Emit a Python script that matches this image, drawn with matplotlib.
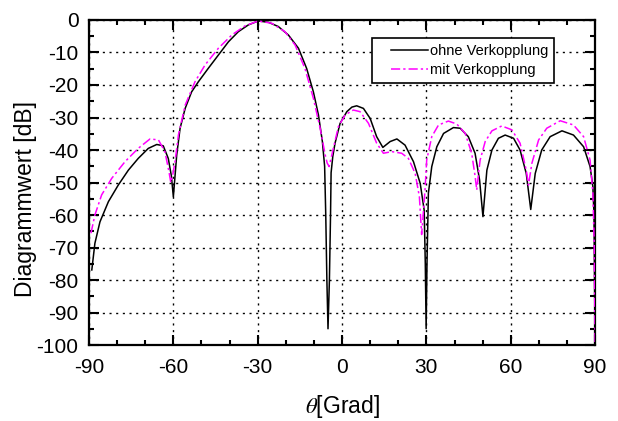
import matplotlib
matplotlib.use("Agg")
import matplotlib.pyplot as plt
from matplotlib.ticker import MultipleLocator
from matplotlib.legend_handler import HandlerLine2D

plt.rcParams['font.family'] = ['Liberation Sans', 'DejaVu Sans']
plt.rcParams['mathtext.fontset'] = 'stix'
plt.rcParams['axes.unicode_minus'] = False

# ohne Verkopplung (schwarz)
theta_ohne = [-89.0, -87.9, -86.1, -83.1, -79.6, -76.0, -72.5, -68.9, -65.9, -63.6,
              -61.8, -60.7, -60.0, -59.4, -58.8, -57.6, -55.8, -53.5, -51.1, -47.6,
              -44.0, -40.4, -36.9, -33.3, -29.8, -26.2, -22.7, -19.1, -15.5, -12.6,
              -10.2, -8.4, -7.0, -6.2, -5.8, -5.4, -5.0, -4.5, -4.1, -3.9,
              -3.3, -2.5, -0.7, 1.7, 3.5, 5.2, 7.6, 10.0, 12.3, 14.5,
              17.1, 19.5, 22.4, 25.4, 27.8, 29.2, 29.6, 29.9, 30.2, 30.7,
              31.9, 33.7, 36.1, 39.6, 42.0, 44.9, 47.3, 48.9, 50.1, 51.5,
              53.3, 55.6, 58.0, 61.0, 63.3, 65.5, 67.1, 68.7, 71.0, 74.0,
              78.2, 82.3, 85.9, 88.2, 89.2, 89.6, 90.0]
db_ohne = [-76.9, -68.7, -62.1, -55.9, -50.8, -46.2, -42.6, -39.5, -38.3, -38.7,
           -42.6, -48.0, -54.4, -48.0, -41.5, -33.3, -27.2, -22.1, -19.0, -14.9,
           -10.8, -6.7, -3.6, -1.5, -0.3, -0.7, -2.0, -4.6, -8.7, -14.9,
           -22.1, -29.2, -37.4, -45.0, -60.0, -80.0, -95.0, -80.0, -60.0, -47.0,
           -42.0, -37.9, -31.8, -28.2, -26.8, -26.4, -27.2, -30.3, -35.9, -39.2,
           -37.4, -36.6, -38.5, -43.6, -50.3, -58.5, -75.0, -95.0, -75.0, -53.3,
           -45.1, -39.0, -34.9, -33.1, -33.3, -35.9, -41.0, -49.2, -60.5, -46.2,
           -40.0, -36.4, -35.4, -36.4, -40.0, -47.2, -58.3, -47.2, -40.0, -35.9,
           -34.1, -35.4, -39.0, -45.1, -51.3, -60.0, -100.0]

# mit Verkopplung (magenta)
theta_mit = [-89.3, -87.9, -85.5, -81.9, -77.2, -72.5, -68.3, -65.3, -63.0, -61.6,
             -60.9, -60.2, -59.4, -58.2, -55.8, -52.3, -48.7, -44.0, -39.2, -34.5,
             -29.8, -25.0, -20.3, -16.7, -13.2, -10.2, -7.8, -6.0, -5.3, -4.6,
             -3.1, -1.3, 1.1, 4.0, 6.4, 9.4, 12.3, 14.7, 17.7, 21.2,
             23.6, 26.0, 27.5, 28.3, 28.8, 29.5, 30.1, 31.9, 34.3, 37.8,
             40.8, 43.8, 46.1, 47.3, 47.9, 48.5, 49.1, 50.9, 53.3, 56.8,
             60.4, 63.3, 65.5, 66.3, 67.5, 69.9, 72.8, 77.6, 82.3, 85.9,
             88.2, 89.2, 89.7, 90.0]
db_mit = [-65.6, -60.0, -53.8, -48.7, -43.6, -39.5, -36.6, -36.9, -40.5, -46.5,
          -50.0, -47.5, -43.6, -35.4, -26.2, -19.0, -13.8, -8.7, -4.6, -1.8,
          -0.3, -1.0, -3.6, -7.7, -14.9, -24.1, -33.3, -41.5, -44.0, -45.1,
          -39.5, -32.8, -29.2, -27.7, -28.2, -31.8, -37.9, -41.0, -40.5, -41.0,
          -42.6, -47.2, -54.4, -66.0, -60.5, -52.3, -43.1, -35.9, -32.3, -31.1,
          -32.0, -34.9, -41.0, -48.0, -52.3, -47.5, -43.1, -37.4, -34.1, -32.6,
          -33.8, -37.9, -46.2, -50.8, -44.1, -36.9, -33.3, -31.0, -32.3, -35.9,
          -43.1, -53.3, -70.0, -100.0]

x_ticks = [-90, -60, -30, 0, 30, 60, 90]
y_ticks = list(range(-100, 1, 10))

fig = plt.figure(figsize=(6.18, 4.21), dpi=100)
ax = fig.add_axes([0.144, 0.1805, 0.819, 0.772])

l1, = ax.plot(theta_ohne, db_ohne, color='black', lw=1.1, label='ohne Verkopplung', zorder=3)
l2, = ax.plot(theta_mit, db_mit, color='#ff00ff', lw=1.1, dashes=(6, 2, 1.5, 2),
              label='mit Verkopplung', zorder=3)

ax.set_xlim(-90, 90)
ax.set_ylim(-100, 0)
ax.set_xticks(x_ticks)
ax.set_yticks(y_ticks)
ax.xaxis.set_minor_locator(MultipleLocator(10))
ax.yaxis.set_minor_locator(MultipleLocator(5))
ax.tick_params(which='both', direction='in', top=True, right=True, labelsize=15, width=1.5)
ax.tick_params(axis='x', which='major', length=7, pad=9)
ax.tick_params(axis='y', which='major', length=7, pad=7.5)
ax.tick_params(which='minor', length=3.5)
for s in ax.spines.values():
    s.set_linewidth(1.6)

ax.grid(True, which='major', color='black', lw=1.0, linestyle=(0, (1.5, 3.3)))

ax.set_xlabel(r'$\theta$[Grad]', fontsize=16.5, labelpad=12)
ax.set_ylabel('Diagrammwert [dB]', fontsize=16.5)
ax.yaxis.set_label_coords(-0.103, 0.449)

hmap = {l1: HandlerLine2D(marker_pad=0, xpad=0.9), l2: HandlerLine2D(marker_pad=0, xpad=0.9)}
leg = ax.legend(loc='upper right', bbox_to_anchor=(0.919, 0.944), fontsize=10.5,
                fancybox=False, framealpha=1, edgecolor='black', handlelength=3.5,
                handletextpad=0.1, borderpad=0.4, labelspacing=0.35, borderaxespad=0,
                handler_map=hmap)
leg.get_frame().set_linewidth(1.2)

fig.savefig('out.png', dpi=100)
